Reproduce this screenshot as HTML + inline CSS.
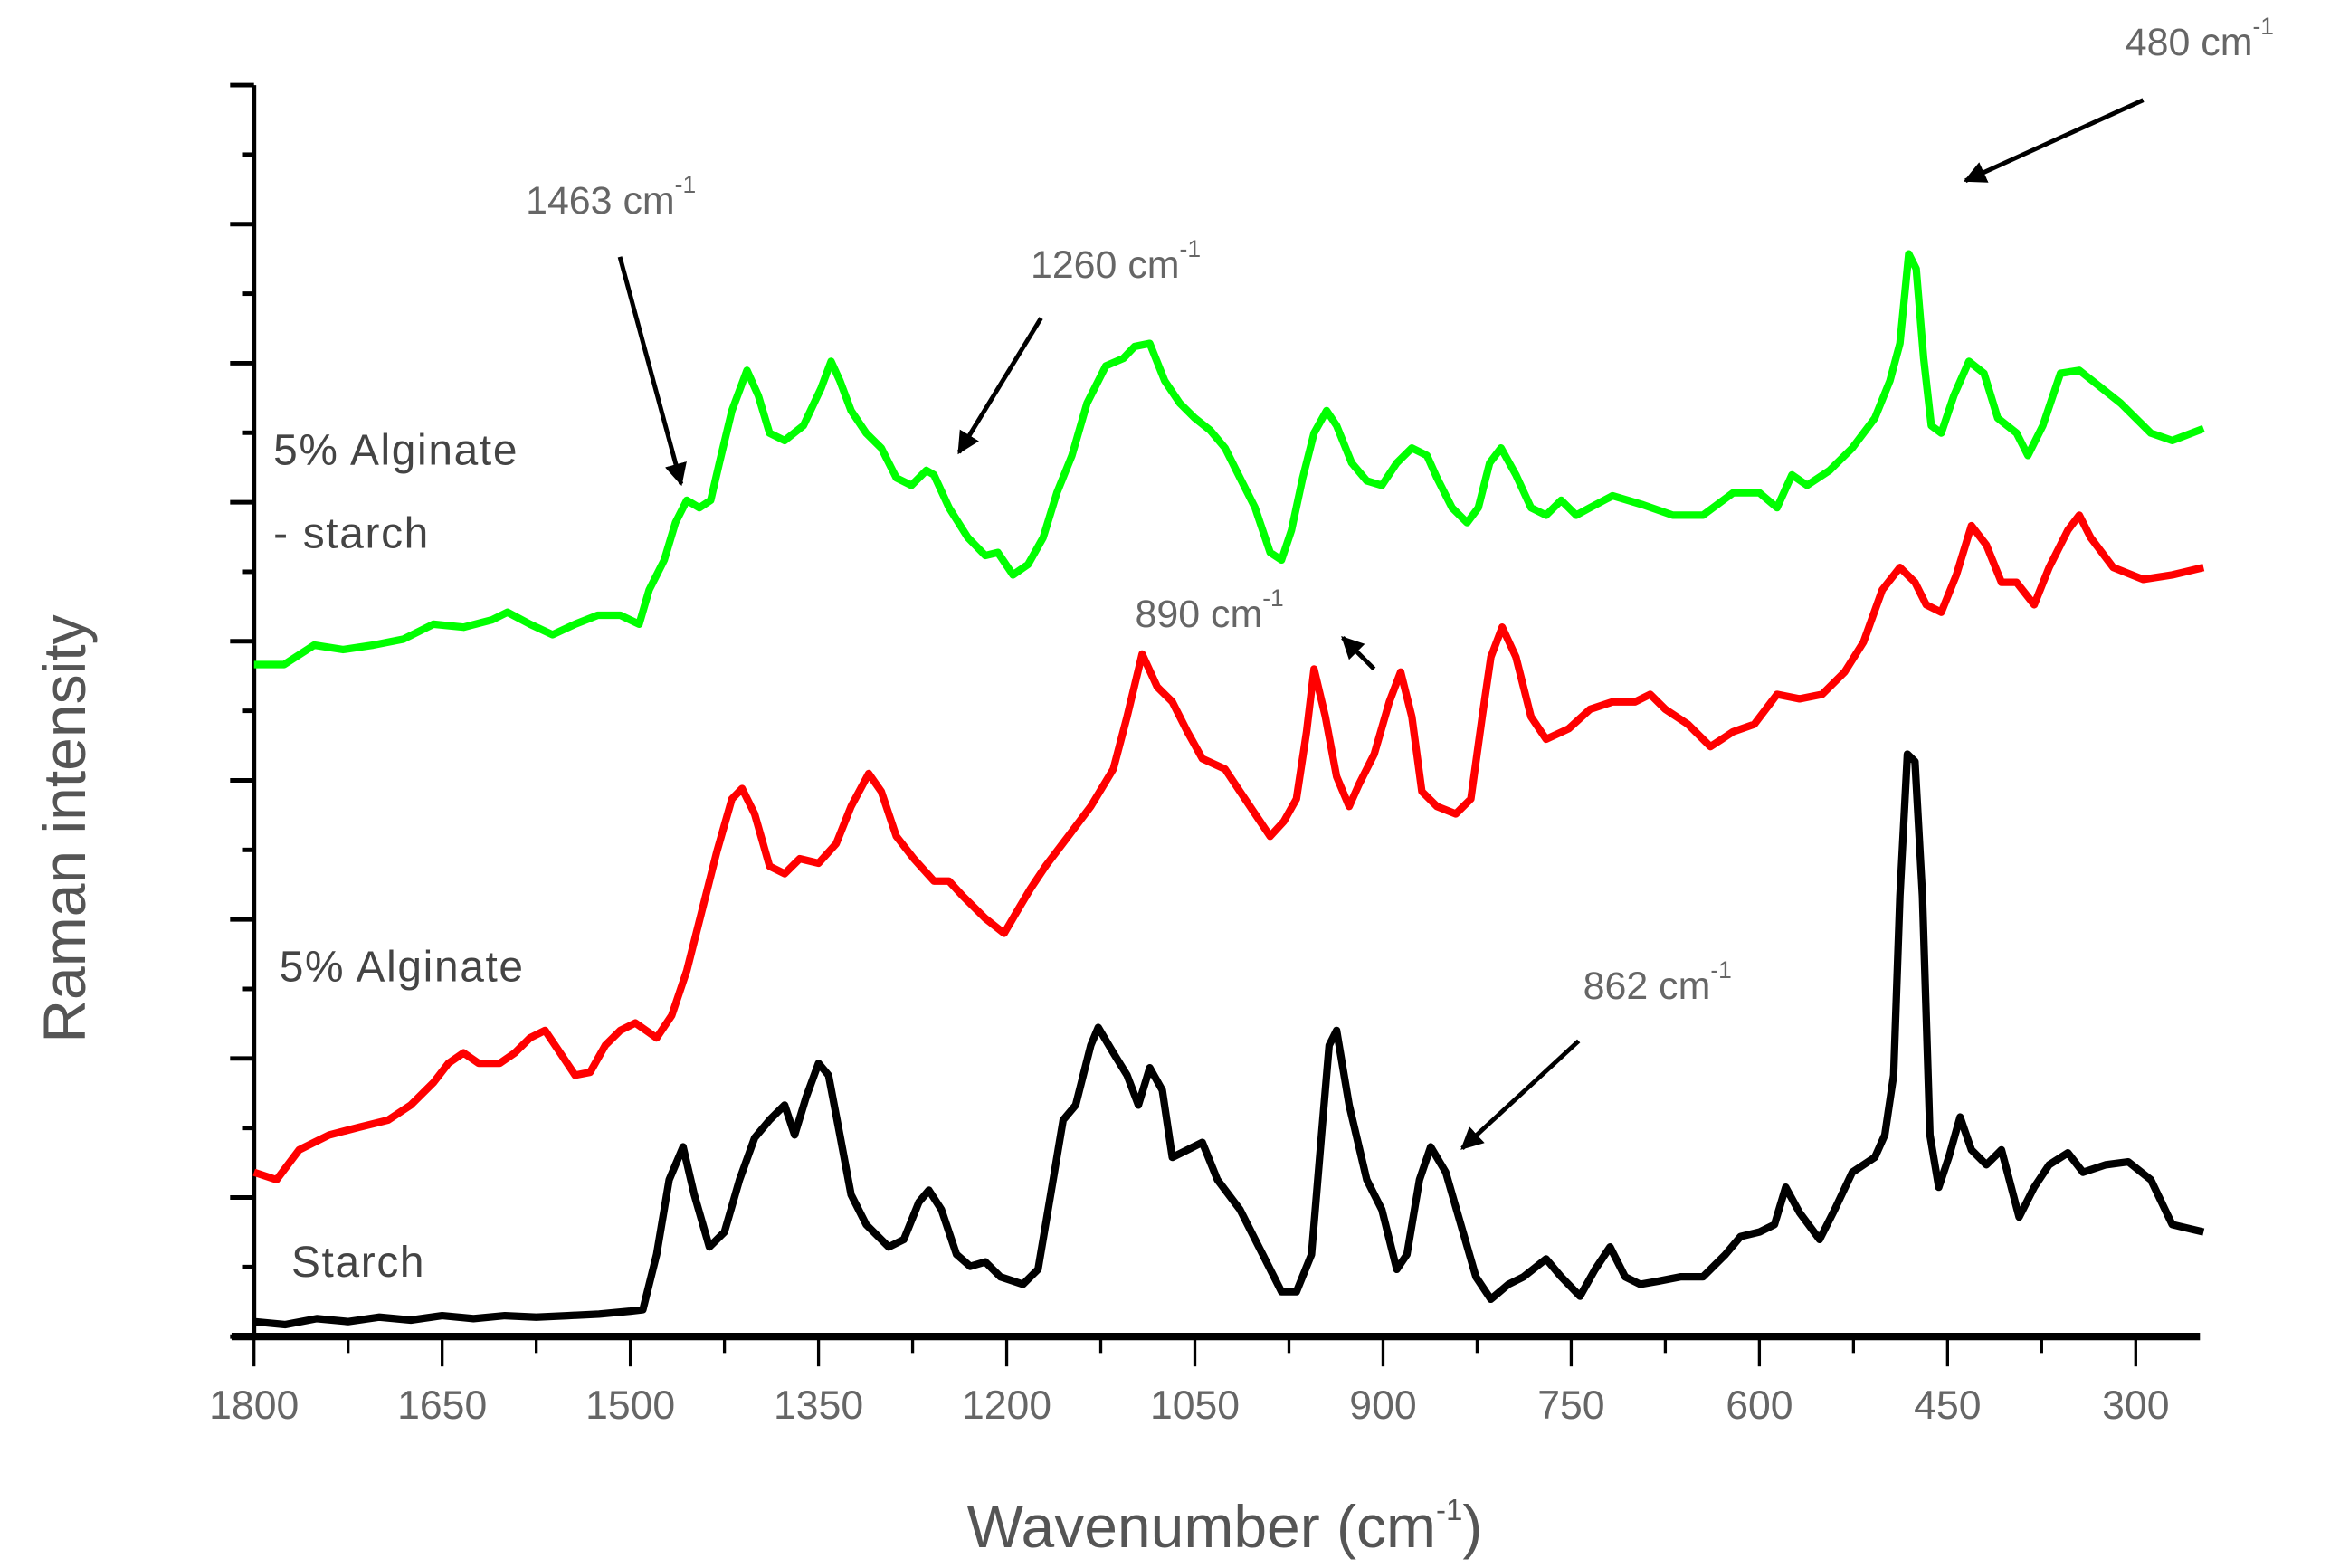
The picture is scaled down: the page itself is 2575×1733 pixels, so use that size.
<!DOCTYPE html>
<html><head><meta charset="utf-8"><style>
html,body{margin:0;padding:0;background:#fff;}
svg{display:block;}
.tick{font-family:"Liberation Sans Narrow","Liberation Sans",sans-serif;font-size:27px;fill:#666;}
.ann{font-family:"Liberation Sans Narrow","Liberation Sans",sans-serif;font-size:26px;fill:#666;}
.lab{font-family:"Liberation Sans",sans-serif;font-size:29px;fill:#444;letter-spacing:1px;}
.title{font-family:"Liberation Sans Narrow","Liberation Sans",sans-serif;font-size:40px;fill:#555;}
</style></head><body>
<svg id="chart" width="2575" height="1733" viewBox="0 0 1560 1050" xmlns="http://www.w3.org/2000/svg">
<defs><marker id="ah" viewBox="0 0 10 10" refX="9" refY="5" markerWidth="5" markerHeight="5" orient="auto"><path d="M0,0L10,5L0,10z" fill="#000"/></marker></defs>
<g id="axes"></g>
<g id="series"></g>
<text class="title" transform="translate(57,555) rotate(-90)" text-anchor="middle">Raman intensity</text>
<text class="title" x="820" y="1036" text-anchor="middle">Wavenumber (cm<tspan dy="-18" font-size="20">-1</tspan><tspan dy="18">)</tspan></text>
<text class="lab" x="183" y="311">5% Alginate</text>
<text class="lab" x="183" y="367">- starch</text>
<text class="lab" x="187" y="657">5% Alginate</text>
<text class="lab" x="195" y="855">Starch</text>
<text class="ann" x="352" y="143">1463 cm<tspan dy="-14" font-size="16">-1</tspan></text>
<text class="ann" x="690" y="186">1260 cm<tspan dy="-14" font-size="16">-1</tspan></text>
<text class="ann" x="1423" y="37">480 cm<tspan dy="-14" font-size="16">-1</tspan></text>
<text class="ann" x="760" y="420">890 cm<tspan dy="-14" font-size="16">-1</tspan></text>
<text class="ann" x="1060" y="669">862 cm<tspan dy="-14" font-size="16">-1</tspan></text>
<g stroke="#000" stroke-width="3" marker-end="url(#ah)">
<line x1="415" y1="172" x2="456" y2="324"/>
<line x1="697" y1="213" x2="642" y2="303"/>
<line x1="1435" y1="67" x2="1316" y2="121"/>
<line x1="920" y1="448" x2="899" y2="427"/>
<line x1="1057" y1="697" x2="979" y2="769"/>
</g>
</svg>
<script>
const xTicks = [1800,1650,1500,1350,1200,1050,900,750,600,450,300];
const starchW = [1800,1775,1750,1725,1700,1675,1650,1625,1600,1575,1550,1525,1500,1490,1479,1469,1458,1449,1437,1425,1413,1401,1389,1377,1369,1360,1350,1342,1333,1324,1312,1294,1282,1270,1262,1252,1240,1229,1217,1205,1187,1175,1163,1155,1145,1133,1127,1115,1104,1095,1086,1076,1068,1056,1044,1032,1014,996,981,969,957,949,943,937,927,913,901,889,881,871,862,850,838,826,814,800,788,770,758,743,731,719,707,695,681,663,645,627,615,600,588,579,568,552,540,526,508,500,493,488,482,476,470,464,457,449,440,431,419,407,393,381,369,354,342,324,306,288,271,246];
const starchI = [10,8,12,10,13,11,14,12,14,13,14,15,17,18,55,105,127,95,60,70,105,133,145,155,135,160,183,175,135,95,75,60,65,90,98,85,55,47,50,40,35,45,105,145,155,195,207,190,175,155,180,165,120,125,130,105,85,55,30,30,55,135,195,205,155,105,85,45,55,105,127,110,75,40,25,35,40,52,40,27,45,60,40,35,37,40,40,55,67,70,75,100,83,65,85,110,120,135,175,295,390,385,295,135,100,120,147,125,115,125,80,100,115,123,110,115,117,105,75,70];
const alginateW = [1800,1782,1764,1740,1717,1693,1675,1657,1645,1633,1621,1604,1592,1580,1568,1556,1544,1532,1520,1508,1496,1479,1467,1455,1443,1431,1419,1411,1401,1389,1377,1365,1350,1336,1324,1310,1300,1288,1274,1258,1246,1235,1217,1202,1193,1181,1169,1151,1133,1115,1104,1092,1080,1068,1056,1044,1026,1014,1002,990,979,969,961,955,946,937,927,919,907,895,886,877,869,857,842,830,821,814,805,794,782,770,752,735,717,699,687,675,657,639,621,604,586,568,550,532,517,502,488,476,467,455,443,431,419,407,395,381,369,354,345,336,318,294,271,246];
const alginateI = [110,105,125,135,140,145,155,170,183,190,183,183,190,200,205,190,175,177,195,205,210,200,215,245,285,325,360,367,350,315,310,320,317,330,355,377,365,335,320,305,305,295,280,270,283,300,315,335,355,380,415,457,435,425,405,387,380,365,350,335,345,360,405,447,415,375,355,370,390,425,445,415,365,355,350,360,415,455,475,455,415,400,407,420,425,425,430,420,410,395,405,410,430,427,430,445,465,500,515,505,490,485,510,543,530,505,505,490,515,540,550,535,515,507,510,515];
const blendW = [1800,1776,1752,1729,1705,1681,1657,1633,1610,1598,1580,1562,1544,1526,1508,1493,1485,1473,1464,1455,1445,1436,1429,1419,1407,1398,1389,1377,1362,1348,1340,1333,1324,1312,1300,1288,1276,1264,1258,1246,1231,1217,1207,1195,1183,1171,1160,1148,1136,1121,1107,1098,1086,1074,1062,1050,1038,1026,1014,1002,990,981,973,964,955,945,937,925,913,901,889,877,865,857,845,833,824,815,806,794,782,770,758,746,735,717,693,669,645,621,600,586,574,562,544,526,508,496,488,481,475,469,463,455,445,433,421,410,395,386,374,360,345,330,312,288,271,246];
const blendI = [450,450,463,460,463,467,477,475,480,485,477,470,477,483,483,477,500,520,545,560,555,560,585,620,647,630,605,600,610,635,653,640,620,605,595,575,570,580,577,555,535,523,525,510,517,535,565,590,625,650,655,663,665,640,625,615,607,595,575,555,525,520,540,575,605,620,610,585,573,570,585,595,590,575,555,545,555,585,595,577,555,550,560,550,555,563,557,550,550,565,565,555,577,570,580,595,615,640,665,725,715,655,610,605,630,653,645,615,605,590,610,645,647,637,625,605,600,608];

const NS = "http://www.w3.org/2000/svg";
const X0 = 170, X1 = 1430, W0 = 1800, W1 = 300;
const Y0 = 895, AXTOP = 57;
function xScale(w){ return X0 + (W0 - w) * (X1 - X0) / (W0 - W1); }
function yScale(v){ return Y0 - v; }
function mk(tag, attrs, parent){ const e = document.createElementNS(NS, tag); for (const k in attrs) e.setAttribute(k, attrs[k]); parent.appendChild(e); return e; }

const axes = document.getElementById('axes');
const yAxis = mk('line', {x1:X0, y1:AXTOP, x2:X0, y2:Y0+1, stroke:'#000', 'stroke-width':3}, axes);


const xAxis = mk('line', {x1:155, y1:Y0, x2:1473, y2:Y0, stroke:'#000', 'stroke-width':5}, axes);


for (let k = 0; k <= 18; k++) {
  const y = AXTOP + k * (Y0 - AXTOP) / 18;
  const major = k % 2 === 0;
  const t = mk('line', {x1: major ? 154 : 162, y1:y, x2:X0, y2:y, stroke:'#000', 'stroke-width':3}, axes);
  
  
}
xTicks.forEach((w, i) => {
  const x = xScale(w);
  const t = mk('line', {x1:x, y1:Y0, x2:x, y2:Y0+20, stroke:'#000', 'stroke-width':2}, axes);
  
  
  if (i < xTicks.length - 1) {
    const xm = xScale(w - 75);
    const m = mk('line', {x1:xm, y1:Y0, x2:xm, y2:Y0+11, stroke:'#000', 'stroke-width':2}, axes);
    
    
  }
  const lb = mk('text', {x:x, y:Y0+55, 'text-anchor':'middle', class:'tick'}, axes);
  lb.textContent = w;
  
  
});

const sg = document.getElementById('series');
function drawSeries(ws, is, color, name){
  const d = ws.map((w, i) => (i ? 'L' : 'M') + xScale(w).toFixed(1) + ',' + yScale(is[i]).toFixed(1)).join('');
  const p = mk('path', {d:d, fill:'none', stroke:color, 'stroke-width':5, 'stroke-linejoin':'round'}, sg);
  
  
}
drawSeries(blendW, blendI, '#00ff00', 'series-alginate-starch');
drawSeries(alginateW, alginateI, '#ff0000', 'series-alginate');
drawSeries(starchW, starchI, '#000000', 'series-starch');
</script>
</body></html>
